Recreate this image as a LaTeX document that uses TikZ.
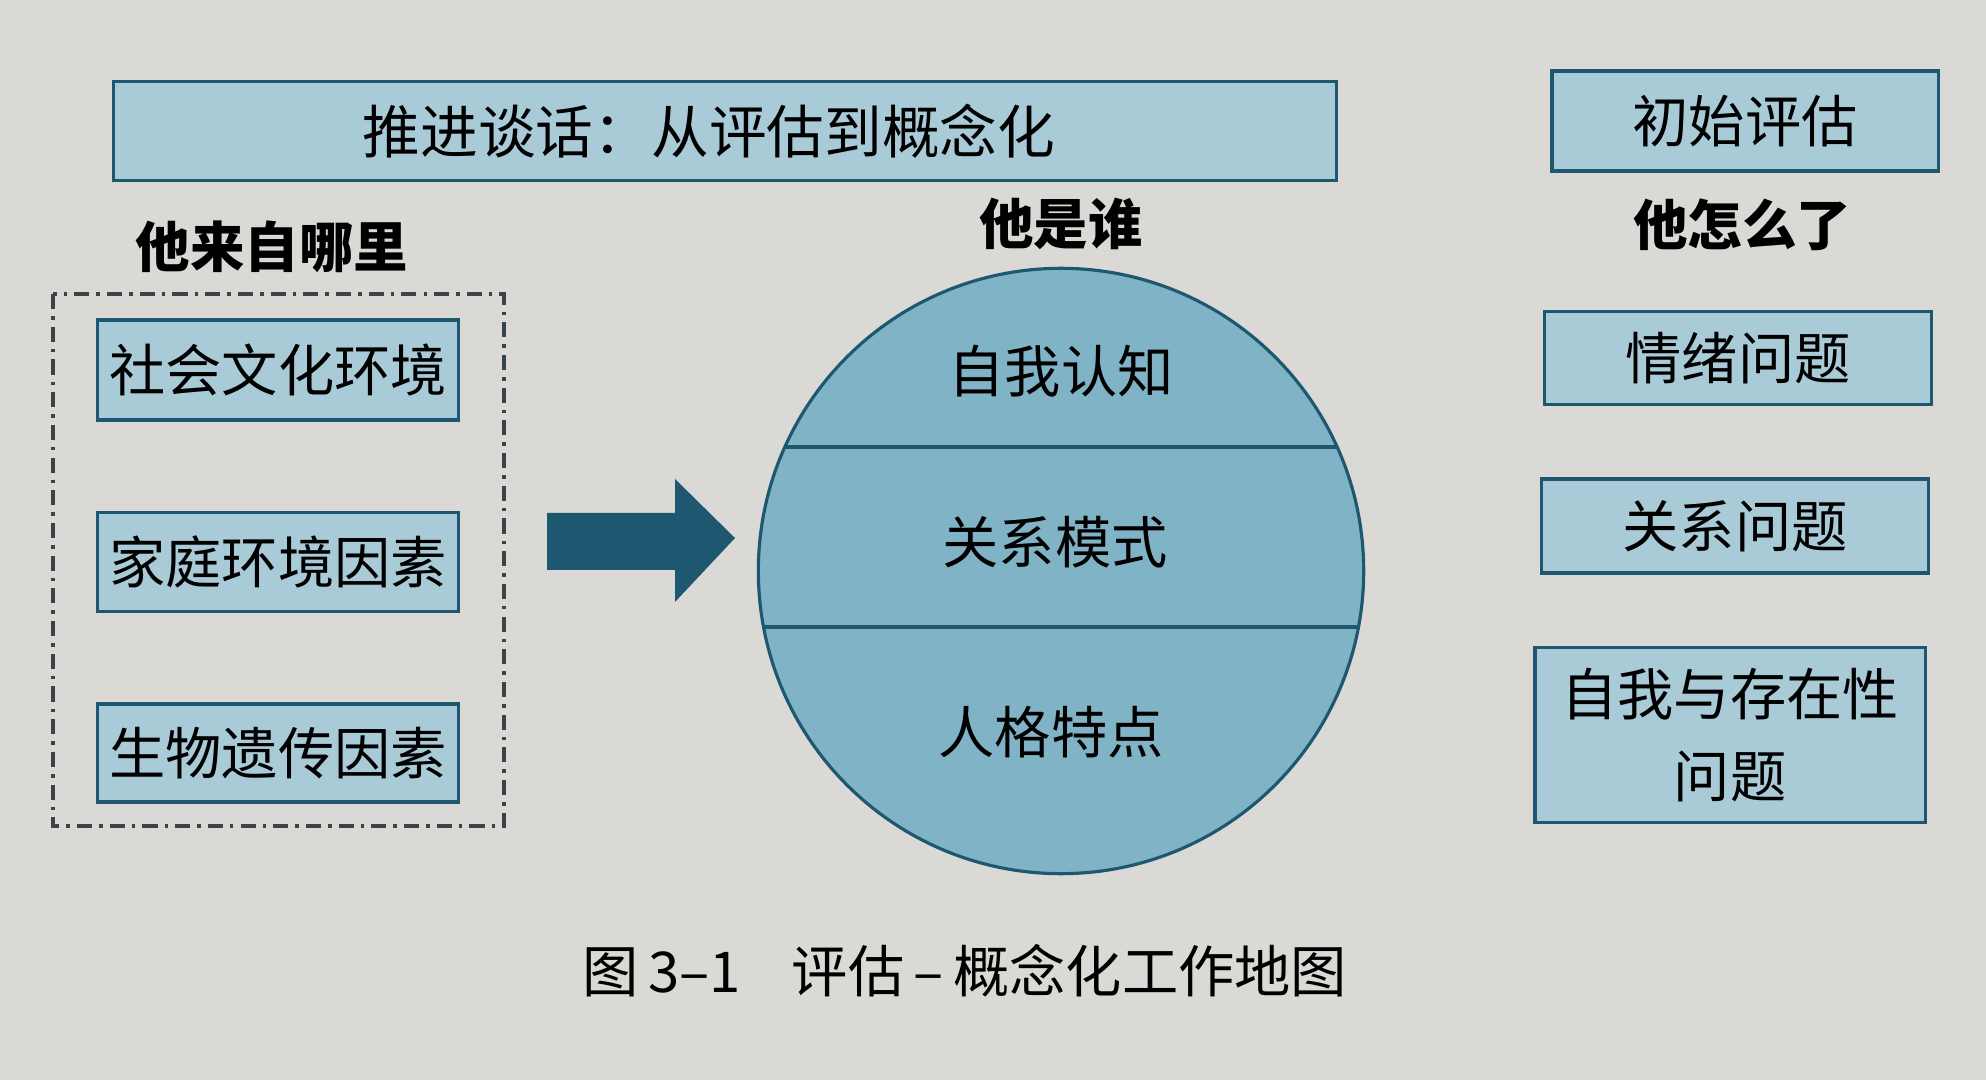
\documentclass[tikz,border=0pt]{standalone}
\usepackage{fontspec}
\setmainfont{Noto Sans CJK SC}
\definecolor{paper}{HTML}{DAD9D5}
\definecolor{boxfill}{HTML}{A9CBD7}
\definecolor{circfill}{HTML}{80B3C6}
\definecolor{edgec}{HTML}{1E5870}
\definecolor{arrowc}{HTML}{1D5770}
\definecolor{dashc}{HTML}{3A4448}
\begin{document}
\begin{tikzpicture}[x=0.01cm,y=-0.01cm,
  bluebox/.style={draw=edgec, line width=0.9pt, fill=boxfill, inner sep=0pt,
    font=\fontsize{16pt}{23.3pt}\selectfont, align=center},
  head/.style={font=\fontsize{15.5pt}{18pt}\selectfont\bfseries, inner sep=0pt},
  intext/.style={font=\fontsize{16pt}{19pt}\selectfont, inner sep=0pt}]
\useasboundingbox (0,0) rectangle (1986,1080);
\fill[paper] (0,0) rectangle (1986,1080);

% title banner
\node[bluebox, minimum width=12.22cm, minimum height=0.99cm] (title) at (725,131) {};
\node[font=\fontsize{16.4pt}{19pt}\selectfont, inner sep=0pt] (titletext) at (709,131) {推进谈话：从评估到概念化};

% left column
\node[head] (from) at (272,247) {他来自哪里};
\draw[dashc, line width=1.1pt, dash pattern=on 4.3pt off 2pt on 1pt off 2pt] (53,294) rectangle (504,826);
\node[bluebox, minimum width=3.61cm, minimum height=1.0cm] (l1) at (278,370) {社会文化环境};
\node[bluebox, minimum width=3.61cm, minimum height=0.99cm] (l2) at (278,562) {家庭环境因素};
\node[bluebox, minimum width=3.61cm, minimum height=0.98cm] (l3) at (278,753) {生物遗传因素};

% arrow
\fill[arrowc] (547,513) -- (675,513) -- (675,479) -- (735,538) -- (675,602) -- (675,570) -- (547,570) -- cycle;

% circle
\node[head] (who) at (1061,224) {他是谁};
\node[circle, draw=edgec, line width=0.9pt, fill=circfill, minimum size=6.05cm, inner sep=0pt] (circ) at (1061,571) {};
\begin{scope}
  \clip (circ.center) circle (302.5);
  \draw[edgec, line width=0.9pt] (700,447) -- (1420,447);
  \draw[edgec, line width=0.9pt] (700,627) -- (1420,627);
\end{scope}
\node[intext] (c1) at (1061,371) {自我认知};
\node[intext] (c2) at (1055,542) {关系模式};
\node[intext] (c3) at (1051,732) {人格特点};

% right column
\node[bluebox, minimum width=3.86cm, minimum height=1.0cm] (r0) at (1745,121) {初始评估};
\node[head] (what) at (1742,225) {他怎么了};
\node[bluebox, minimum width=3.87cm, minimum height=0.93cm] (r1) at (1738,358) {情绪问题};
\node[bluebox, minimum width=3.87cm, minimum height=0.94cm] (r2) at (1735,526) {关系问题};
\node[bluebox, minimum width=3.9cm, minimum height=1.75cm] (r3) at (1730,735) {自我与存在性\\问题};

% caption
\node[font=\fontsize{16pt}{19pt}\selectfont, inner sep=0pt] (cap) at (965,971) {图\,3–1\hspace{0.9em}评估\,–\,概念化工作地图};
\end{tikzpicture}
\end{document}
